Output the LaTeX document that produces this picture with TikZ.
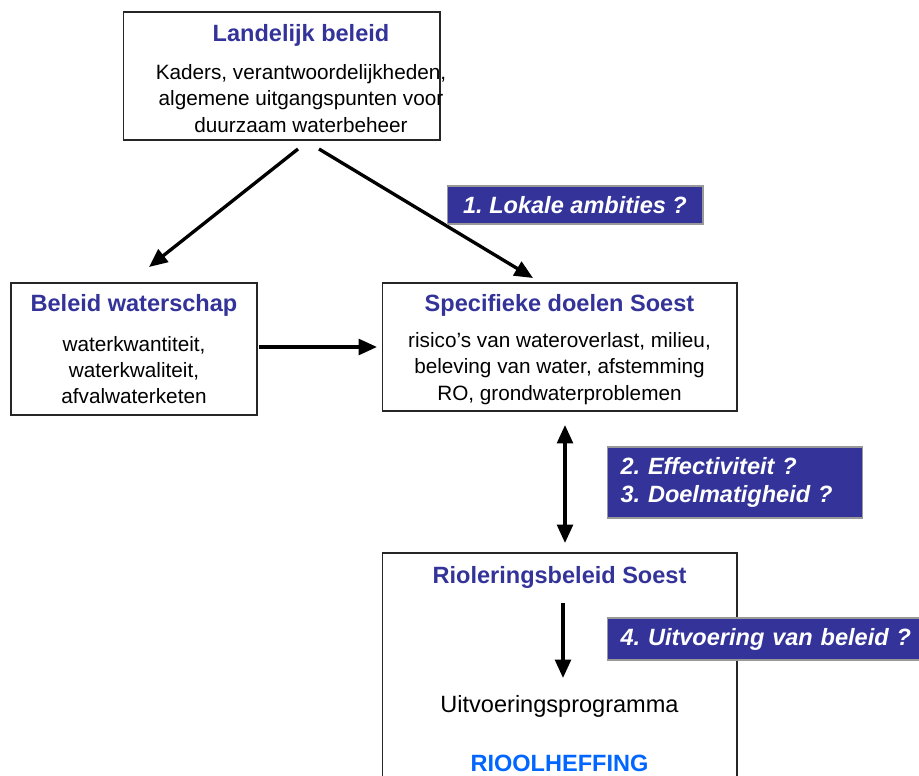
\documentclass[tikz,border=0pt]{standalone}
\usepackage{fontspec}
\setmainfont{Liberation Sans}
\usetikzlibrary{arrows.meta}

\definecolor{titleblue}{RGB}{51,51,153}
\definecolor{heffingblue}{RGB}{0,102,255}

\frenchspacing

\begin{document}
\begin{tikzpicture}[x=0.02cm, y=-0.02cm]
        % Define styles for boxes, texts and arrows
        \tikzset{
            box/.style={draw=black!85, line width=0.6pt, fill=white, inner sep=0pt},
            title/.style={anchor=base, text=titleblue, font=\fontsize{13.4}{16}\selectfont\bfseries},
            body/.style={align=center, inner sep=0pt, font=\fontsize{11.8}{14.9}\selectfont},
            question/.style={draw=black!40, line width=0.6pt, fill=titleblue, text=white, inner ysep=0pt,
                font=\fontsize{13.4}{16.4}\selectfont\bfseries\itshape},
            black arrow/.style={line width=1.9pt, black, -{Triangle[length=10.5pt, width=9pt]}},
            double arrow/.style={line width=1.9pt, black, {Triangle[length=10.5pt, width=9pt]}-{Triangle[length=10.5pt, width=9pt]}}
        }

        \clip (0,0) rectangle (919,776);

        % The boxes
        \node[box, minimum width=6.34cm, minimum height=2.56cm] (landelijk) at (281.5,76) {};
        \node[box, minimum width=4.92cm, minimum height=2.64cm] (waterschap) at (134,349) {};
        \node[box, minimum width=7.1cm, minimum height=2.56cm] (specifiek) at (559.5,347) {};
        \node[box, minimum width=7.1cm, minimum height=5cm] (riolering) at (559.5,678) {};

        % Texts in the boxes
        \node[title] (landelijkTitle) at (301,42) {Landelijk beleid};
        \node[body] (landelijkText) at (301,98.5) {Kaders, verantwoordelijkheden,\\algemene uitgangspunten voor\\duurzaam waterbeheer};
        \node[title] (waterschapTitle) at (134,312) {Beleid waterschap};
        \node[body] (waterschapText) at (134,370) {waterkwantiteit,\\waterkwaliteit,\\afvalwaterketen};
        \node[title] (specifiekTitle) at (559.5,312) {Specifieke doelen Soest};
        \node[body] (specifiekText) at (559.5,368.5) {risico's van wateroverlast, milieu,\\beleving van water, afstemming\\RO, grondwaterproblemen};
        \node[title] (rioleringTitle) at (559.5,583) {Rioleringsbeleid Soest};
        \node[anchor=base, font=\fontsize{13.4}{16}\selectfont] (uitvoering) at (559.5,712) {Uitvoeringsprogramma};
        \node[anchor=base, text=heffingblue, font=\fontsize{13.4}{16}\selectfont\bfseries] (heffing) at (559.5,771) {RIOOLHEFFING};

        % End points of the arrows
        \coordinate (fromLeft) at (298,149);
        \coordinate (toLeft) at (149,267);
        \coordinate (fromRight) at (319,149);
        \coordinate (toRight) at (533,278);
        \coordinate (fromWater) at (259,347);
        \coordinate (toSpecifiek) at (377,347);
        \coordinate (upEnd) at (565,425);
        \coordinate (downEnd) at (565,543);
        \coordinate (rioStart) at (563,603);
        \coordinate (rioEnd) at (563,678);

        % Arrows
        \draw[black arrow] (fromLeft) -- (toLeft);
        \draw[black arrow] (fromRight) -- (toRight);
        \draw[black arrow] (fromWater) -- (toSpecifiek);
        \draw[double arrow] (upEnd) -- (downEnd);
        \draw[black arrow] (rioStart) -- (rioEnd);

        % Question labels
        \node[question, minimum width=5.12cm, minimum height=0.76cm] (ambities) at (575,205) {1. Lokale ambities ?};
        \node[question, anchor=west, inner xsep=0.26cm, text width=4.58cm, align=left, minimum height=1.42cm] (effectiviteit) at (607,482.5) {2. Effectiviteit ?\\3. Doelmatigheid ?};
        \node[question, anchor=west, inner xsep=0.26cm, text width=5.9cm, align=left, minimum height=0.84cm] (beleid) at (607,639) {4. Uitvoering van beleid ?};

    \end{tikzpicture}
\end{document}
